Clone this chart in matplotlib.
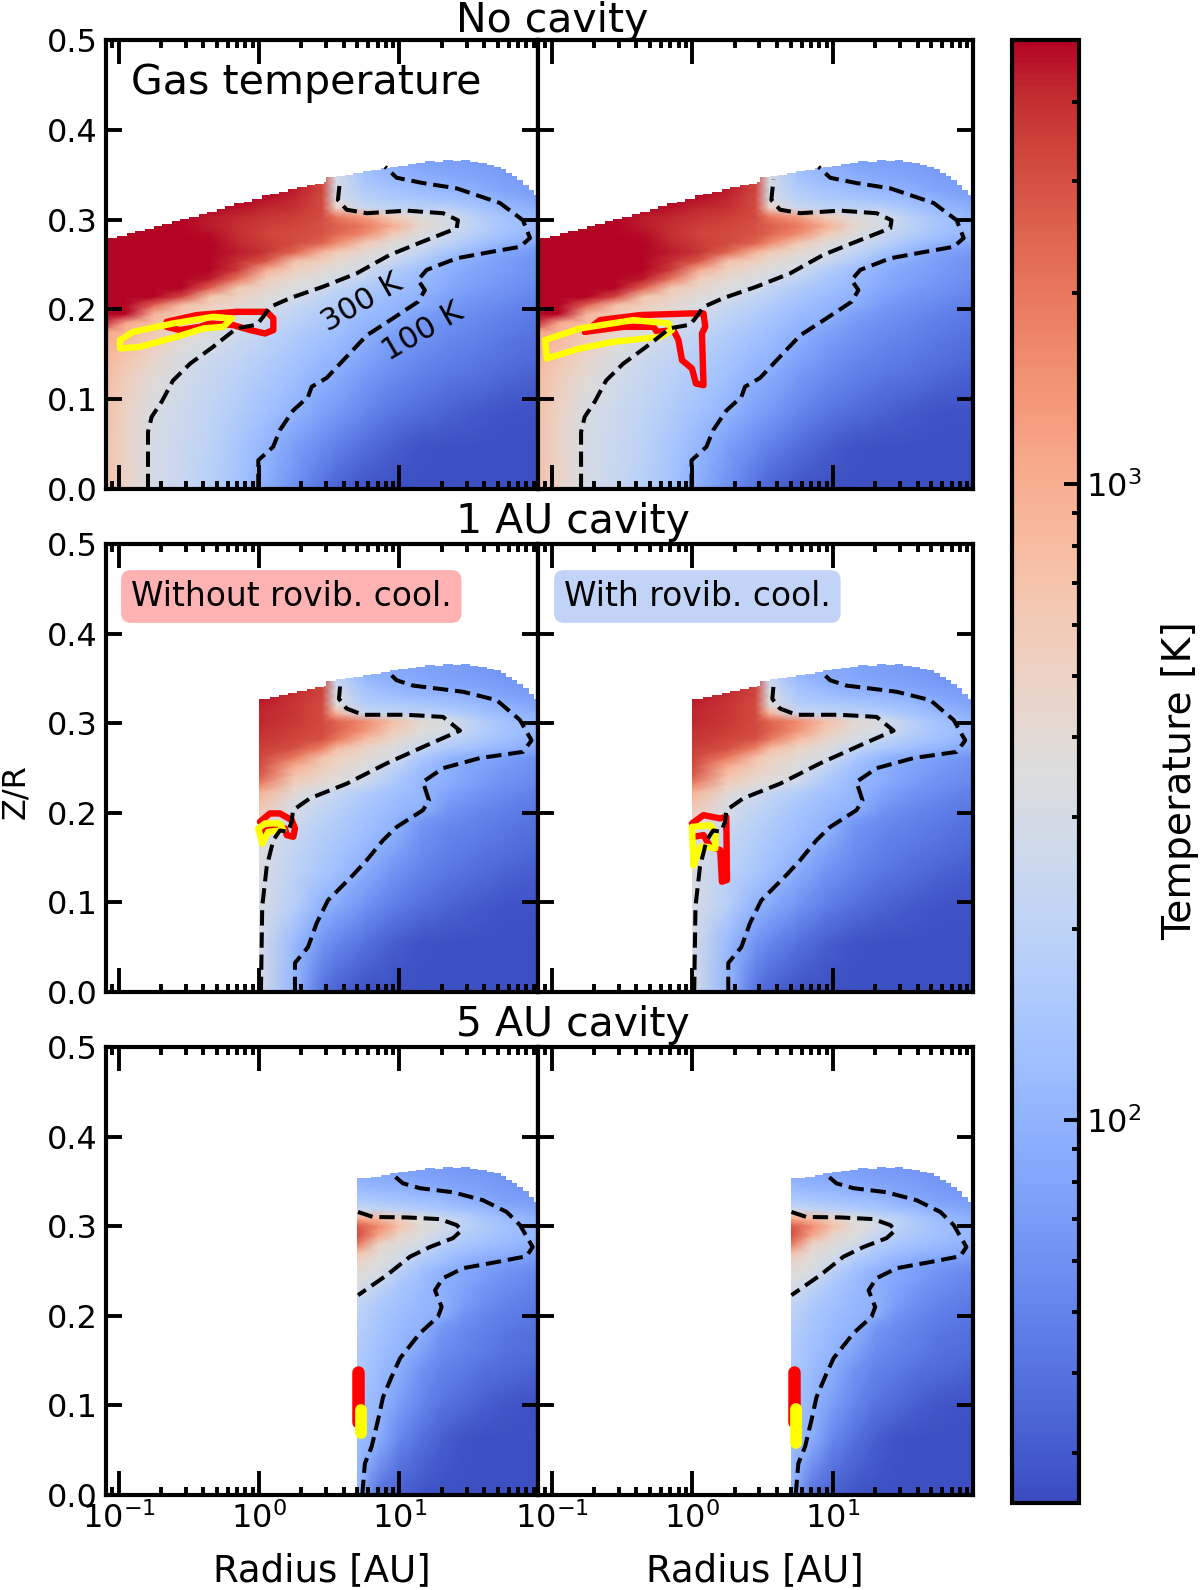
import numpy as np
import matplotlib
matplotlib.use('Agg')
import matplotlib.pyplot as plt
from matplotlib.colors import LogNorm
from matplotlib.cm import ScalarMappable
from matplotlib.patches import Polygon
from matplotlib.ticker import LogLocator, NullFormatter, NullLocator

# Upper edge of the model grid, same for every panel (log10 radius, Z/R)
top_lr = [-1.15, -1.07, -1.01, -0.94, -0.88, -0.81, -0.75, -0.69, -0.62, -0.56, -0.5, -0.43, -0.37, -0.3, -0.24, -0.18,
          -0.11, -0.05, 0.02, 0.08, 0.14, 0.21, 0.27, 0.34, 0.4, 0.46, 0.48, 0.55, 0.61, 0.67, 0.74, 0.8, 0.87, 0.93,
          0.99, 1.06, 1.12, 1.18, 1.25, 1.31, 1.38, 1.44, 1.5, 1.56, 1.62, 1.67, 1.72, 1.76, 1.8, 1.84, 1.88, 1.92,
          1.96, 2.0]
top_z = [0.277, 0.279, 0.282, 0.285, 0.287, 0.29, 0.293, 0.295, 0.298, 0.301, 0.303, 0.306, 0.309, 0.312, 0.315, 0.318,
         0.32, 0.323, 0.327, 0.329, 0.331, 0.334, 0.336, 0.338, 0.34, 0.342, 0.347, 0.349, 0.35, 0.352, 0.354, 0.355,
         0.357, 0.359, 0.36, 0.362, 0.363, 0.365, 0.364, 0.366, 0.365, 0.366, 0.364, 0.363, 0.361, 0.359, 0.356, 0.352,
         0.348, 0.344, 0.339, 0.333, 0.327, 0.32]

# Temperature tables, log10(T) per row of Z/R
none_lr = [-1.15, -0.95, -0.75, -0.55, -0.35, -0.15, 0.05, 0.25, 0.45, 0.55, 0.75, 0.95, 1.15, 1.35, 1.55, 1.75, 2.0]
none_z = [0, 0.047, 0.086, 0.126, 0.145, 0.165, 0.175, 0.185, 0.195, 0.205, 0.214, 0.224, 0.234,
          0.244, 0.254, 0.264, 0.274, 0.284, 0.293, 0.303, 0.313, 0.323, 0.333, 0.343, 0.362, 0.382]
none_logt = [
    [2.9, 2.7, 2.47, 2.38, 2.26, 2.13, 1.96, 1.78, 1.6, 1.53, 1.45, 1.42, 1.42, 1.42, 1.42, 1.42, 1.42],
    [2.9, 2.68, 2.47, 2.39, 2.29, 2.17, 2.02, 1.86, 1.74, 1.68, 1.58, 1.5, 1.44, 1.42, 1.42, 1.42, 1.42],
    [2.92, 2.7, 2.5, 2.41, 2.32, 2.22, 2.11, 2.01, 1.88, 1.83, 1.72, 1.63, 1.57, 1.52, 1.47, 1.44, 1.43],
    [2.95, 2.75, 2.6, 2.46, 2.37, 2.28, 2.19, 2.1, 2.0, 1.95, 1.83, 1.74, 1.68, 1.63, 1.6, 1.55, 1.5],
    [2.98, 2.82, 2.66, 2.51, 2.41, 2.33, 2.24, 2.15, 2.05, 2.02, 1.9, 1.8, 1.73, 1.68, 1.64, 1.6, 1.55],
    [3.02, 2.9, 2.75, 2.6, 2.5, 2.39, 2.29, 2.2, 2.1, 2.07, 1.97, 1.85, 1.78, 1.72, 1.68, 1.63, 1.58],
    [3.08, 2.95, 2.8, 2.67, 2.54, 2.44, 2.33, 2.23, 2.14, 2.1, 2.0, 1.89, 1.8, 1.74, 1.7, 1.65, 1.6],
    [3.7, 3.02, 2.88, 2.73, 2.6, 2.51, 2.4, 2.28, 2.18, 2.14, 2.03, 1.97, 1.83, 1.77, 1.72, 1.67, 1.62],
    [3.7, 3.7, 2.95, 2.8, 2.67, 2.57, 2.46, 2.32, 2.22, 2.17, 2.07, 2.01, 1.87, 1.8, 1.74, 1.7, 1.64],
    [3.7, 3.7, 3.4, 2.88, 2.74, 2.63, 2.52, 2.38, 2.27, 2.22, 2.11, 2.03, 1.98, 1.84, 1.78, 1.73, 1.67],
    [3.7, 3.7, 3.7, 3.5, 2.82, 2.7, 2.58, 2.47, 2.33, 2.27, 2.16, 2.07, 2.0, 1.88, 1.81, 1.76, 1.7],
    [3.7, 3.7, 3.7, 3.7, 3.4, 2.8, 2.65, 2.54, 2.45, 2.35, 2.21, 2.12, 2.03, 1.93, 1.85, 1.8, 1.73],
    [3.7, 3.7, 3.7, 3.7, 3.65, 3.3, 2.74, 2.62, 2.53, 2.45, 2.32, 2.17, 2.06, 1.95, 1.88, 1.82, 1.75],
    [3.7, 3.7, 3.7, 3.7, 3.7, 3.55, 3.0, 2.72, 2.62, 2.55, 2.45, 2.24, 2.1, 1.98, 1.9, 1.84, 1.77],
    [3.7, 3.7, 3.7, 3.7, 3.7, 3.6, 3.45, 2.85, 2.73, 2.64, 2.53, 2.4, 2.22, 2.03, 1.94, 1.85, 1.78],
    [3.7, 3.7, 3.7, 3.7, 3.7, 3.65, 3.58, 3.4, 2.95, 2.78, 2.63, 2.5, 2.35, 2.17, 2.01, 1.9, 1.82],
    [3.7, 3.7, 3.7, 3.7, 3.7, 3.62, 3.55, 3.5, 3.4, 3.2, 2.8, 2.58, 2.45, 2.3, 2.15, 2.02, 1.92],
    [3.7, 3.7, 3.7, 3.7, 3.68, 3.6, 3.52, 3.5, 3.47, 3.38, 3.2, 2.78, 2.55, 2.4, 2.25, 2.12, 2.03],
    [3.7, 3.7, 3.7, 3.7, 3.65, 3.6, 3.55, 3.52, 3.47, 3.42, 3.3, 3.0, 2.63, 2.47, 2.28, 2.15, 2.05],
    [3.7, 3.7, 3.7, 3.7, 3.65, 3.62, 3.58, 3.55, 3.5, 3.3, 3.1, 2.75, 2.58, 2.47, 2.27, 2.13, 2.03],
    [3.7, 3.7, 3.7, 3.7, 3.7, 3.67, 3.62, 3.6, 3.5, 2.7, 2.4, 2.33, 2.3, 2.27, 2.15, 2.05, 1.97],
    [3.7, 3.7, 3.7, 3.7, 3.7, 3.7, 3.67, 3.62, 3.5, 2.5, 2.28, 2.2, 2.16, 2.12, 2.07, 1.98, 1.9],
    [3.7, 3.7, 3.7, 3.7, 3.7, 3.7, 3.7, 3.65, 3.52, 2.45, 2.22, 2.14, 2.08, 2.02, 1.97, 1.9, 1.85],
    [3.7, 3.7, 3.7, 3.7, 3.7, 3.7, 3.7, 3.65, 3.5, 2.5, 2.17, 2.07, 2.0, 1.96, 1.92, 1.87, 1.83],
    [3.7, 3.7, 3.7, 3.7, 3.7, 3.7, 3.7, 3.65, 3.55, 2.4, 2.1, 1.97, 1.9, 1.87, 1.85, 1.82, 1.8],
    [3.7, 3.7, 3.7, 3.7, 3.7, 3.7, 3.7, 3.65, 3.55, 2.4, 2.1, 1.97, 1.9, 1.87, 1.85, 1.82, 1.8],
]

au1_lr = [0.0, 0.25, 0.45, 0.55, 0.75, 0.95, 1.15, 1.35, 1.55, 1.75, 2.0]
au1_z = [0, 0.055, 0.094, 0.134, 0.154, 0.173, 0.183, 0.193, 0.203, 0.213, 0.223, 0.232, 0.242,
         0.252, 0.262, 0.272, 0.282, 0.292, 0.302, 0.311, 0.321, 0.331, 0.341, 0.351, 0.371, 0.39]
au1_logt = [
    [2.48, 2.02, 1.6, 1.52, 1.44, 1.42, 1.42, 1.42, 1.42, 1.42, 1.42],
    [2.48, 2.06, 1.8, 1.72, 1.6, 1.5, 1.44, 1.42, 1.42, 1.42, 1.42],
    [2.5, 2.25, 2.0, 1.93, 1.78, 1.66, 1.58, 1.52, 1.47, 1.44, 1.43],
    [2.52, 2.3, 2.17, 2.1, 1.96, 1.8, 1.7, 1.63, 1.58, 1.53, 1.48],
    [2.54, 2.33, 2.2, 2.14, 2.03, 1.88, 1.74, 1.67, 1.62, 1.58, 1.53],
    [2.56, 2.36, 2.24, 2.18, 2.08, 1.98, 1.78, 1.7, 1.66, 1.62, 1.56],
    [2.58, 2.4, 2.26, 2.2, 2.1, 2.01, 1.8, 1.72, 1.68, 1.63, 1.58],
    [2.68, 2.45, 2.29, 2.23, 2.12, 2.03, 1.85, 1.75, 1.7, 1.65, 1.6],
    [2.78, 2.47, 2.33, 2.27, 2.15, 2.06, 2.0, 1.8, 1.73, 1.68, 1.62],
    [2.88, 2.53, 2.38, 2.3, 2.18, 2.08, 2.02, 1.85, 1.77, 1.71, 1.65],
    [2.98, 2.62, 2.44, 2.36, 2.23, 2.12, 2.04, 1.9, 1.8, 1.74, 1.68],
    [3.25, 2.72, 2.6, 2.54, 2.38, 2.18, 2.04, 1.95, 1.85, 1.78, 1.72],
    [3.45, 2.85, 2.68, 2.62, 2.48, 2.25, 2.06, 1.97, 1.88, 1.8, 1.74],
    [3.5, 3.0, 2.75, 2.68, 2.54, 2.35, 2.1, 1.98, 1.9, 1.83, 1.76],
    [3.52, 3.3, 2.85, 2.72, 2.62, 2.5, 2.2, 2.02, 1.95, 1.86, 1.79],
    [3.55, 3.48, 3.25, 2.9, 2.68, 2.55, 2.35, 2.2, 2.1, 2.02, 1.92],
    [3.58, 3.52, 3.47, 3.3, 2.9, 2.65, 2.5, 2.33, 2.2, 2.1, 2.0],
    [3.6, 3.55, 3.5, 3.42, 3.15, 2.78, 2.58, 2.48, 2.27, 2.14, 2.04],
    [3.62, 3.57, 3.5, 3.4, 3.2, 2.88, 2.62, 2.5, 2.27, 2.12, 2.02],
    [3.62, 3.58, 3.5, 2.95, 2.4, 2.33, 2.3, 2.25, 2.15, 2.05, 1.97],
    [3.64, 3.58, 3.5, 2.55, 2.25, 2.2, 2.17, 2.12, 2.07, 1.98, 1.9],
    [3.67, 3.6, 3.52, 2.5, 2.18, 2.1, 2.05, 2.02, 1.97, 1.9, 1.85],
    [3.7, 3.62, 3.52, 2.42, 2.12, 2.02, 1.97, 1.93, 1.9, 1.85, 1.82],
    [3.7, 3.62, 3.52, 2.35, 2.05, 1.96, 1.92, 1.88, 1.85, 1.82, 1.8],
    [3.7, 3.62, 3.52, 2.3, 2.0, 1.92, 1.88, 1.85, 1.82, 1.8, 1.78],
    [3.7, 3.62, 3.52, 2.3, 2.0, 1.92, 1.88, 1.85, 1.82, 1.8, 1.78],
]

au5_lr = [0.7, 0.85, 1.0, 1.15, 1.3, 1.45, 1.6, 1.75, 2.0]
au5_z = [0, 0.063, 0.102, 0.142, 0.161, 0.181, 0.191, 0.201, 0.211, 0.221, 0.231, 0.24, 0.25,
         0.26, 0.27, 0.28, 0.29, 0.3, 0.309, 0.319, 0.329, 0.339, 0.349, 0.359, 0.378, 0.398]
au5_logt = [
    [2.05, 1.6, 1.5, 1.45, 1.42, 1.42, 1.42, 1.42, 1.42],
    [2.1, 1.97, 1.72, 1.6, 1.5, 1.44, 1.42, 1.42, 1.42],
    [2.14, 2.03, 1.85, 1.72, 1.62, 1.56, 1.5, 1.46, 1.43],
    [2.2, 2.08, 1.97, 1.8, 1.7, 1.65, 1.6, 1.57, 1.52],
    [2.23, 2.1, 2.02, 1.9, 1.75, 1.7, 1.65, 1.6, 1.56],
    [2.26, 2.13, 2.05, 2.0, 1.8, 1.73, 1.68, 1.63, 1.58],
    [2.28, 2.15, 2.07, 2.01, 1.85, 1.75, 1.7, 1.65, 1.6],
    [2.3, 2.17, 2.08, 2.03, 1.98, 1.8, 1.72, 1.67, 1.62],
    [2.32, 2.2, 2.1, 2.04, 2.0, 1.85, 1.75, 1.7, 1.64],
    [2.42, 2.24, 2.13, 2.05, 2.0, 1.88, 1.78, 1.72, 1.66],
    [2.52, 2.3, 2.16, 2.07, 1.99, 1.9, 1.8, 1.75, 1.68],
    [2.55, 2.43, 2.2, 2.08, 1.98, 1.92, 1.84, 1.77, 1.7],
    [2.6, 2.52, 2.28, 2.12, 2.0, 1.93, 1.86, 1.8, 1.73],
    [2.68, 2.55, 2.42, 2.2, 2.1, 2.0, 1.92, 1.86, 1.8],
    [2.85, 2.6, 2.5, 2.32, 2.17, 2.08, 2.03, 2.0, 1.88],
    [3.3, 2.68, 2.57, 2.47, 2.27, 2.17, 2.1, 2.06, 2.0],
    [3.5, 3.05, 2.65, 2.55, 2.38, 2.25, 2.17, 2.1, 2.03],
    [3.45, 3.2, 2.85, 2.6, 2.5, 2.3, 2.2, 2.12, 2.02],
    [3.0, 2.9, 2.7, 2.55, 2.4, 2.28, 2.17, 2.08, 1.98],
    [2.4, 2.33, 2.28, 2.22, 2.17, 2.12, 2.05, 1.97, 1.9],
    [2.2, 2.17, 2.13, 2.1, 2.06, 2.0, 1.95, 1.88, 1.85],
    [2.1, 2.07, 2.04, 2.0, 1.97, 1.92, 1.88, 1.84, 1.82],
    [2.02, 1.98, 1.96, 1.93, 1.9, 1.87, 1.85, 1.82, 1.8],
    [1.98, 1.93, 1.9, 1.88, 1.85, 1.83, 1.82, 1.8, 1.78],
    [1.95, 1.9, 1.87, 1.85, 1.83, 1.82, 1.8, 1.78, 1.77],
    [1.95, 1.9, 1.87, 1.85, 1.83, 1.82, 1.8, 1.78, 1.77],
]

# Dashed 300 K and 100 K contours (log10 radius, Z/R)
none_300_lr = [-0.79, -0.79, -0.764, -0.693, -0.612, -0.491, -0.327, -0.159, -0.016, 0.03, 0.078, 0.22, 0.456,
               0.695, 0.932, 1.167, 1.407, 1.416, 1.31, 1.051, 0.767, 0.624, 0.562, 0.577]
none_300_z = [0, 0.0636, 0.0804, 0.0971, 0.1208, 0.1395, 0.1583, 0.179, 0.1829, 0.1918, 0.2026, 0.2125, 0.2253,
              0.2401, 0.2608, 0.2756, 0.2904, 0.2993, 0.3071, 0.31, 0.3071, 0.311, 0.3219, 0.3446]
none_100_lr = [-0.005, -0.005, 0.1, 0.149, 0.242, 0.349, 0.375, 0.482, 0.624, 0.767, 0.932, 1.132, 1.181, 1.132,
               1.194, 1.407, 1.644, 1.858, 1.929, 1.879, 1.715, 1.407, 1.167, 0.98, 0.897]
none_100_z = [0, 0.032, 0.0468, 0.0656, 0.0873, 0.1025, 0.1139, 0.1237, 0.1474, 0.1711, 0.1878, 0.2085, 0.2214,
              0.2327, 0.244, 0.2569, 0.2638, 0.2697, 0.2795, 0.2993, 0.3185, 0.3348, 0.3407, 0.3466, 0.3589]

au1_300_lr = [0.014, 0.023, 0.055, 0.102, 0.149, 0.206, 0.233, 0.242, 0.363, 0.624, 0.909, 1.194, 1.431, 1.31,
              1.051, 0.74, 0.624, 0.569, 0.581]
au1_300_z = [0, 0.0955, 0.1398, 0.1694, 0.1803, 0.1788, 0.1901, 0.2029, 0.2162, 0.2325, 0.2552, 0.2754, 0.2917,
             0.307, 0.3094, 0.3094, 0.3163, 0.3272, 0.3479]
au1_100_lr = [0.256, 0.256, 0.349, 0.41, 0.491, 0.669, 0.767, 0.883, 0.98, 1.167, 1.21, 1.167, 1.31, 1.573, 1.879,
              1.94, 1.858, 1.692, 1.452, 1.096, 0.98, 0.918]
au1_100_z = [0, 0.0324, 0.0501, 0.0767, 0.1024, 0.1305, 0.1472, 0.1694, 0.1842, 0.2029, 0.2138, 0.2345, 0.2498,
             0.2611, 0.268, 0.2808, 0.3035, 0.3257, 0.3351, 0.342, 0.3479, 0.3573]

au5_300_lr = [0.705, 0.811, 1.051, 1.288, 1.407, 1.443, 1.381, 1.217, 1.075, 0.909, 0.705]
au5_300_z = [0.3159, 0.3103, 0.3098, 0.3079, 0.3012, 0.2955, 0.2867, 0.2768, 0.266, 0.2453, 0.223]
au5_100_lr = [0.735, 0.754, 0.802, 0.847, 0.883, 0.944, 1.004, 1.146, 1.274, 1.3, 1.253, 1.31, 1.452, 1.692, 1.905,
              1.948, 1.858, 1.763, 1.594, 1.381, 1.146, 1.025, 0.944]
au5_100_z = [0, 0.0352, 0.054, 0.0835, 0.1092, 0.1319, 0.1526, 0.1807, 0.1989, 0.2098, 0.2285, 0.242, 0.2531, 0.26,
             0.2665, 0.2768, 0.3012, 0.3159, 0.329, 0.3379, 0.3424, 0.3478, 0.3586]

# Red and yellow outlines, left (a) and right (b) column of each row
none_red_a = ([-0.657, -0.562, -0.42, -0.349, -0.183, -0.064, 0.043, 0.102, 0.102, 0.055, -0.159, -0.443, -0.657],
              [0.1806, 0.177, 0.1806, 0.1844, 0.1825, 0.177, 0.1732, 0.177, 0.19, 0.1973, 0.1973, 0.1937, 0.1862])
none_yel_a = ([-0.989, -0.989, -0.847, -0.586, -0.396, -0.254, -0.194, -0.325, -0.61, -0.895, -0.989],
              [0.1658, 0.1565, 0.1583, 0.1695, 0.1788, 0.1806, 0.19, 0.1918, 0.1844, 0.175, 0.1658])
none_red_b = ([-0.762, -0.489, -0.275, -0.251, -0.133, -0.098, -0.073, -0.002, 0.026, 0.08, 0.069, 0.0925, 0.08,
               -0.014, -0.37, -0.655, -0.762],
              [0.175, 0.1806, 0.1806, 0.175, 0.177, 0.1658, 0.1435, 0.1342, 0.1175, 0.1156, 0.1732, 0.1806, 0.1955,
               0.1955, 0.1937, 0.1881, 0.175])
none_yel_b = ([-1.046, -1.034, -0.797, -0.56, -0.228, -0.144, -0.169, -0.418, -0.797, -1.046],
              [0.1658, 0.1454, 0.1565, 0.1639, 0.1695, 0.177, 0.1844, 0.1881, 0.1788, 0.1658])

au1_red_a = ([0.007, 0.078, 0.149, 0.233, 0.256, 0.244, 0.197, 0.185, 0.09, 0.03],
             [0.19, 0.1993, 0.1993, 0.1918, 0.1825, 0.1732, 0.1751, 0.1825, 0.1825, 0.1788])
au1_yel_a = ([0.023, -0.005, 0.043, 0.149, 0.173, 0.066, 0.023],
             [0.1658, 0.1825, 0.1881, 0.1881, 0.1807, 0.1788, 0.1658])
au1_red_b = ([-0.002, 0.08, 0.199, 0.242, 0.247, 0.211, 0.199, 0.128, 0.08, 0.009],
             [0.1881, 0.1974, 0.1937, 0.1955, 0.125, 0.1231, 0.1584, 0.162, 0.1751, 0.1732])
au1_yel_b = ([0.009, -0.002, 0.128, 0.164, 0.164, 0.105, 0.057, 0.009],
             [0.1416, 0.1843, 0.1862, 0.1788, 0.1602, 0.162, 0.162, 0.1416])

au5_red_a = ([0.705, 0.705], [0.137, 0.082])
au5_yel_a = ([0.724, 0.724], [0.0945, 0.069])
au5_red_b = ([0.72, 0.72], [0.137, 0.082])
au5_yel_b = ([0.739, 0.739], [0.096, 0.058])

panels = [
    dict(lr=none_lr, z=none_z, logt=none_logt, inner=-1.15, c300=(none_300_lr, none_300_z), c100=(none_100_lr, none_100_z),
         red=(none_red_a, none_red_b), yel=(none_yel_a, none_yel_b)),
    dict(lr=au1_lr, z=au1_z, logt=au1_logt, inner=0.0, c300=(au1_300_lr, au1_300_z), c100=(au1_100_lr, au1_100_z),
         red=(au1_red_a, au1_red_b), yel=(au1_yel_a, au1_yel_b)),
    dict(lr=au5_lr, z=au5_z, logt=au5_logt, inner=0.7, c300=(au5_300_lr, au5_300_z), c100=(au5_100_lr, au5_100_z),
         red=(au5_red_a, au5_red_b), yel=(au5_yel_a, au5_yel_b)),
]

titles = ['No cavity', '1 AU cavity', '5 AU cavity']
title_x = [552, 573, 573]
title_y = [32, 533, 1036]

W, H = 1200, 1590
col_px = [(106, 538), (538, 973)]
row_px = [(40, 489), (544, 992), (1047, 1495)]
col_xlim = [(10 ** -1.089, 10 ** 1.986), (10 ** -1.096, 10 ** 1.995)]

norm = LogNorm(vmin=25, vmax=5000)
cmap = 'coolwarm'


def to_r(lr):
    return 10 ** np.asarray(lr, dtype=float)


def px_text(x, y, s, **kw):
    return fig.text(x / W, 1 - y / H, s, **kw)


def grid_clip(ax, inner):
    # staircase along the top of the grid, cut at the cavity wall
    lr = np.array(top_lr)
    z = np.array(top_z)
    keep = lr > inner
    xs = np.r_[inner, lr[keep]]
    zs = np.r_[z[keep][0], z[keep]]
    verts = [(to_r(inner), 0)]
    for i in range(len(xs) - 1):
        verts.append((to_r(xs[i]), zs[i]))
        verts.append((to_r(xs[i + 1]), zs[i]))
    verts.append((to_r(xs[-1]), 0))
    return Polygon(verts, closed=True, transform=ax.transData)


fig = plt.figure(figsize=(W / 100, H / 100), dpi=100)

for r, p in enumerate(panels):
    for c in range(2):
        left, right = col_px[c]
        top, bottom = row_px[r]
        ax = fig.add_axes([left / W, 1 - bottom / H, (right - left) / W, (bottom - top) / H])
        ax.set_xscale('log')
        ax.set_xlim(col_xlim[c])
        ax.set_ylim(0, 0.5)

        mesh = ax.pcolormesh(to_r(p['lr']), p['z'], 10 ** np.array(p['logt']), norm=norm, cmap=cmap,
                             shading='gouraud', zorder=1)
        mesh.set_clip_path(grid_clip(ax, p['inner']))

        red_lw = 9 if r == 2 else 4.6
        yel_lw = 8.5 if r == 2 else 4.6
        ax.plot(to_r(p['red'][c][0]), p['red'][c][1], color='red', lw=red_lw, zorder=3,
                solid_capstyle='round', solid_joinstyle='round')
        ax.plot(to_r(p['yel'][c][0]), p['yel'][c][1], color='yellow', lw=yel_lw, zorder=4,
                solid_capstyle='round', solid_joinstyle='round')
        ax.plot(to_r(p['c300'][0]), p['c300'][1], color='black', lw=2.9, dashes=(3.8, 1.7), zorder=5)
        ax.plot(to_r(p['c100'][0]), p['c100'][1], color='black', lw=2.9, dashes=(3.8, 1.7), zorder=5)

        ax.set_yticks([0, 0.1, 0.2, 0.3, 0.4, 0.5])
        ax.yaxis.set_minor_locator(NullLocator())
        ax.xaxis.set_major_locator(LogLocator(base=10, numticks=10))
        ax.xaxis.set_minor_locator(LogLocator(base=10, subs=np.arange(2, 10), numticks=20))
        ax.xaxis.set_minor_formatter(NullFormatter())
        ax.tick_params(axis='x', which='major', direction='in', top=True, bottom=True, length=17, width=2.8,
                       labelsize=23, labelbottom=(r == 2), pad=5)
        ax.tick_params(axis='x', which='minor', direction='in', top=True, bottom=True, length=6, width=2.8)
        ax.tick_params(axis='y', which='major', direction='in', left=True, right=True, length=11.5, width=2.8,
                       labelsize=23, labelleft=(c == 0), pad=6)
        for s in ax.spines.values():
            s.set_linewidth(3)
            s.set_zorder(6)

        if r == 0 and c == 0:
            ax.text(to_r(0.731), 0.207, '300 K', fontsize=22, rotation=30, ha='center', va='center', zorder=6)
            ax.text(to_r(1.167), 0.175, '100 K', fontsize=22, rotation=30, ha='center', va='center', zorder=6)

for t, x, y in zip(titles, title_x, title_y):
    px_text(x, y, t, fontsize=29.5, ha='center', va='baseline')

px_text(131, 94, 'Gas temperature', fontsize=29.6, ha='left', va='baseline')
px_text(131, 606, 'Without rovib. cool.', fontsize=23.7, ha='left', va='baseline',
        bbox=dict(boxstyle='round,pad=0.3', fc='#ffb2b2', ec='none'))
px_text(564, 606, 'With rovib. cool.', fontsize=23.7, ha='left', va='baseline',
        bbox=dict(boxstyle='round,pad=0.3', fc='#c1d4f7', ec='none'))

px_text(322, 1571, 'Radius [AU]', fontsize=26.7, ha='center', va='center')
px_text(755, 1571, 'Radius [AU]', fontsize=26.7, ha='center', va='center')
px_text(16, 792, 'Z/R', fontsize=23, rotation=90, ha='center', va='center')

# Colour bar
cax = fig.add_axes([1012 / W, 1 - 1503 / H, 67 / W, 1463 / H])
cbar = fig.colorbar(ScalarMappable(norm=norm, cmap=cmap), cax=cax)
cbar.outline.set_linewidth(3)
cax.tick_params(which='major', direction='in', length=11, width=2.8, labelsize=23, pad=5)
cax.tick_params(which='minor', direction='in', length=5, width=2.8)
cax.yaxis.set_minor_formatter(NullFormatter())
px_text(1180, 781, 'Temperature [K]', fontsize=28.4, rotation=90, ha='center', va='center')

fig.savefig('out.png', dpi=100)
